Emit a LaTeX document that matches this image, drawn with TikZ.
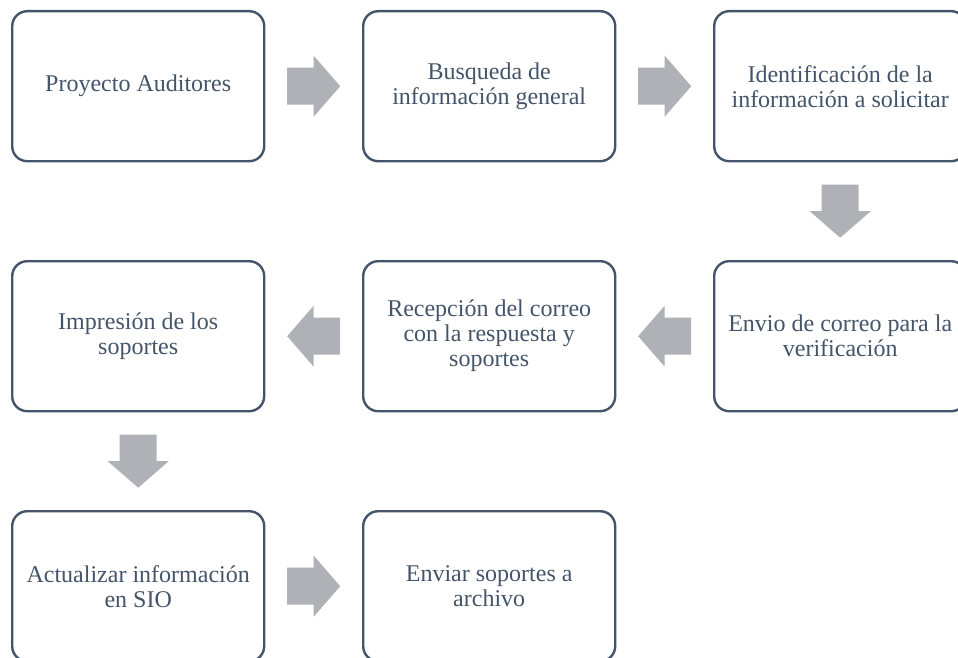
\documentclass[tikz,border=0pt]{standalone}
\usepackage{fontspec}
\setmainfont{Liberation Serif}
\usetikzlibrary{calc}
\definecolor{boxline}{RGB}{68,84,106}
\definecolor{arrowgray}{RGB}{175,177,183}
\tikzset{
  stepbox/.style={draw=boxline, line width=2.4pt, rounded corners=15pt, fill=white,
    minimum width=252pt, minimum height=150pt, inner sep=0pt, align=center,
    text=boxline, font=\fontsize{24}{25}\selectfont, anchor=north west},
  blockarrow/.style={fill=arrowgray, draw=none}
}
\begin{document}
\begin{tikzpicture}[x=1pt,y=-1pt]
\clip (0,0) rectangle (958,658);
\fill[white] (0,0) rectangle (958,658);
\node[stepbox] (n1) at (11,10) {Proyecto Auditores};
\node[stepbox] (n2) at (362,10) {Busqueda de\\información general};
\node[stepbox] (n3) at (713,10) {Identificación de la\\información a solicitar};
\node[stepbox] (n4) at (713,260) {Envio de correo para la\\verificación};
\node[stepbox] (n5) at (362,260) {Recepción del correo\\con la respuesta y\\soportes};
\node[stepbox] (n6) at (11,260) {Impresión de los\\soportes};
\node[stepbox] (n7) at (11,510) {Actualizar información\\en SIO};
\node[stepbox] (n8) at (362,510) {Enviar soportes a\\archivo};
\coordinate (a1) at ($(n1.east)!0.5!(n2.west)$);
\coordinate (a2) at ($(n2.east)!0.5!(n3.west)$);
\coordinate (a3) at ($(n3.south)!0.5!(n4.north)$);
\coordinate (a4) at ($(n4.west)!0.5!(n5.east)$);
\coordinate (a5) at ($(n5.west)!0.5!(n6.east)$);
\coordinate (a6) at ($(n6.south)!0.5!(n7.north)$);
\coordinate (a7) at ($(n7.east)!0.5!(n8.west)$);
\foreach \c/\r in {a1/0,a2/0,a3/-90,a4/180,a5/180,a6/-90,a7/0}{
  \fill[blockarrow, shift={(\c)}, rotate=\r]
    (-26.5,-18.5) -- (0,-18.5) -- (0,-30.5) -- (26.5,0) -- (0,30.5) -- (0,18.5) -- (-26.5,18.5) -- cycle;
}
\end{tikzpicture}
\end{document}
